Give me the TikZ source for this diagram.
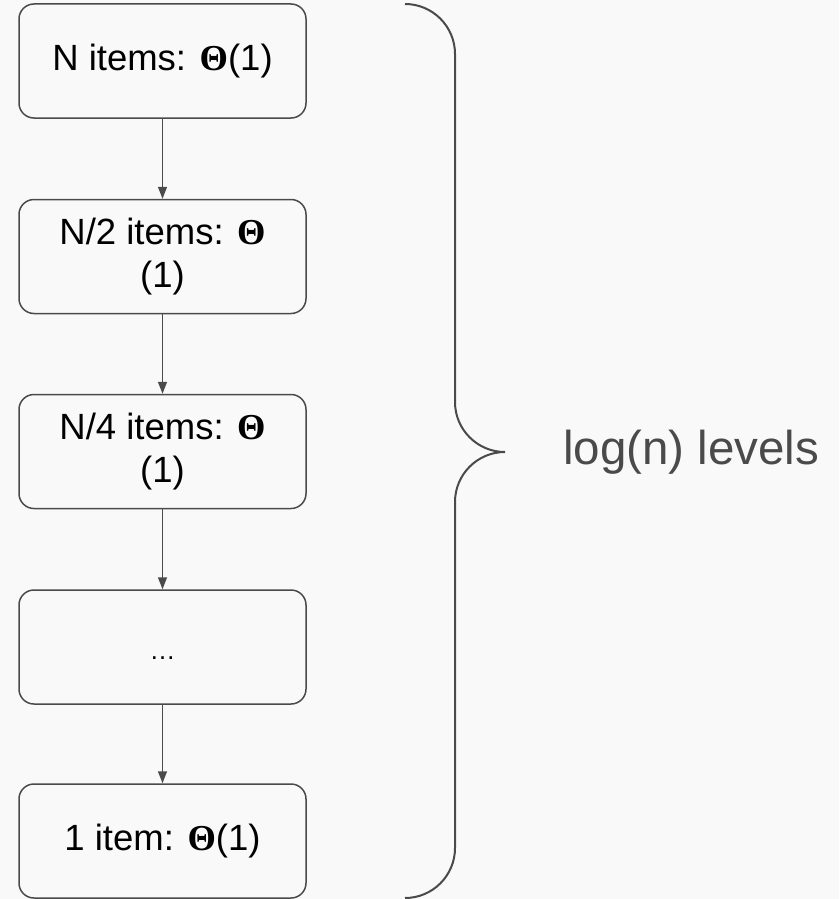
\documentclass[tikz,border=0pt]{standalone}
\usepackage{fontspec}
\setmainfont{Liberation Sans}
\newfontfamily\thetafont{Liberation Serif}
\usetikzlibrary{arrows.meta,positioning}

\definecolor{linegray}{HTML}{4A4A4A}
\definecolor{bggray}{HTML}{F9F9F9}
\newcommand{\btheta}{{\thetafont\bfseries Θ}}

\tikzset{
	level/.style={draw=linegray, line width=1.5pt, rounded corners=15pt, minimum width=287pt, minimum height=114pt, inner sep=0pt, align=center, font=\fontsize{36.5}{43}\selectfont},
	down/.style={draw=linegray, line width=1.5pt, -{Triangle[length=12pt,width=9pt]}},
	bracebar/.style={draw=linegray, line width=2pt},
}

\begin{document}
\begin{tikzpicture}[x=1pt, y=-1pt]
	
	\useasboundingbox (0,0) rectangle (839,899);
	\fill[bggray] (0,0) rectangle (839,899);
	
	\node[level] (n1) at (162.5,61) {N items: \btheta(1)};
	\node[level] (n2) at (162.5,256.5) {N/2 items: \btheta\\(1)};
	\node[level] (n4) at (162.5,451.5) {N/4 items: \btheta\\(1)};
	\node[level] (dots) at (162.5,647) {\strut\fontsize{26}{30}\selectfont\raisebox{-4pt}{…}};
	\node[level] (one) at (162.5,841) {1 item: \btheta(1)};
	
	\draw[down] (n1) -- (n2);
	\draw[down] (n2) -- (n4);
	\draw[down] (n4) -- (dots);
	\draw[down] (dots) -- (one);
	
	% brace
	\coordinate (top) at (405,4);
	\coordinate (tip) at (505,452);
	\coordinate (bot) at (405,898);
	\draw[bracebar] (top) .. controls (432.6,4) and (455,26.4) .. (455,54)
		-- (455,402) .. controls (455,429.6) and (477.4,452) .. (tip)
		.. controls (477.4,452) and (455,474.4) .. (455,502)
		-- (455,848) .. controls (455,875.6) and (432.6,898) .. (bot);
	
	\node[right=58pt of tip, inner sep=0pt, text=linegray, font=\fontsize{47.5}{54}\selectfont] (lbl) {log(n) levels};
	
\end{tikzpicture}
\end{document}
